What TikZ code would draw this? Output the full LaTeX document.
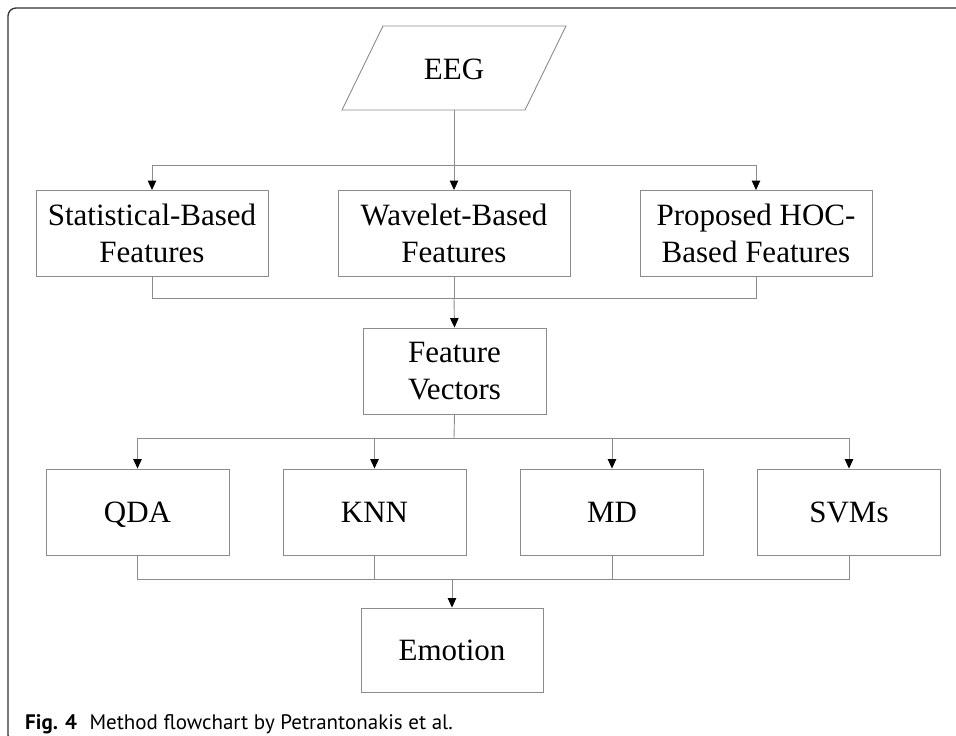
\documentclass[tikz,border=0pt]{standalone}
\usepackage{fontspec}
\setmainfont{Liberation Serif}
\newfontfamily\capfont{PT Sans}
\usetikzlibrary{arrows.meta,calc}

\definecolor{linegray}{gray}{0.55}
\definecolor{framegray}{gray}{0.2}

\tikzset{
  box/.style={draw=linegray, line width=0.9pt, rectangle, inner sep=0pt,
    minimum height=86pt, align=center,
    font=\fontsize{31}{37}\selectfont},
  wbox/.style={box, minimum width=232pt},
  nbox/.style={box, minimum width=183pt},
  oneline/.style={text height=20.5pt, text depth=0pt},
  link/.style={draw=linegray, line width=0.9pt},
  arr/.style={link, -{Triangle[length=9.5pt,width=8.5pt,black]}},
}

\begin{document}
\begin{tikzpicture}[x=1pt, y=-1pt]
  \useasboundingbox (0,0) rectangle (956,736);
  \fill[white] (0,0) rectangle (956,736);

  % figure frame, open towards the right and bottom
  \begin{scope}
    \clip (0,0) rectangle (956,736);
    \draw[framegray, line width=1.3pt, rounded corners=8pt]
      (980,8) -- (8,8) -- (8,743) -- (60,743);
  \end{scope}

  % input: EEG parallelogram
  \draw[linegray, line width=0.9pt]
    (383,26) -- (566,26) -- (525,110) -- (342,110) -- cycle;
  \node[oneline, inner sep=0pt, font=\fontsize{31}{37}\selectfont] (eeg) at (454,69) {EEG};
  \coordinate (eegb) at (454,110);

  % feature extraction
  \node[wbox] (stat) at (152,233.5) {Statistical-Based\\Features};
  \node[wbox] (wave) at (454,233.5) {Wavelet-Based\\Features};
  \node[wbox] (hoc)  at (756,233.5) {Proposed HOC-\\Based Features};

  \node[nbox] (fv) at (454.5,371) {Feature\\Vectors};

  % classifiers
  \node[nbox, oneline] (qda) at (137.5,512) {QDA};
  \node[nbox, oneline] (knn) at (374.5,512) {KNN};
  \node[nbox, oneline] (md)  at (612,512)   {MD};
  \node[nbox, oneline] (svm) at (849,512)   {SVMs};

  \node[nbox, oneline, minimum width=182pt, minimum height=84pt] (emo) at (452,650) {Emotion};

  % junction points of the buses
  \coordinate (j1) at (454,165);
  \coordinate (j2) at (454,298);
  \coordinate (j3) at (454,438);
  \coordinate (j4) at (452,579);

  % EEG -> features
  \draw[link] (eegb) -- (j1);
  \draw[arr] (j1) -| (stat.north);
  \draw[arr] (j1) -- (wave.north);
  \draw[arr] (j1) -| (hoc.north);

  % features -> feature vectors
  \draw[link] (stat.south) |- (j2);
  \draw[link] (hoc.south) |- (j2);
  \draw[link] (wave.south) -- (j2);
  \draw[arr] (j2) -- (fv.north);

  % feature vectors -> classifiers
  \draw[link] (fv.south) -- (j3);
  \draw[arr] (j3) -| (qda.north);
  \draw[arr] (j3) -| (knn.north);
  \draw[arr] (j3) -| (md.north);
  \draw[arr] (j3) -| (svm.north);

  % classifiers -> emotion
  \draw[link] (qda.south) |- (j4);
  \draw[link] (knn.south) |- (j4);
  \draw[link] (md.south) |- (j4);
  \draw[link] (svm.south) |- (j4);
  \draw[arr] (j4) -- (emo.north);

  % caption
  \node[anchor=base west, inner sep=0pt, font=\capfont\fontsize{21}{25}\selectfont]
    (cap) at (25,729) {\textbf{Fig. 4}\hspace{0.6em}Method flowchart by Petrantonakis et al.};
\end{tikzpicture}
\end{document}
